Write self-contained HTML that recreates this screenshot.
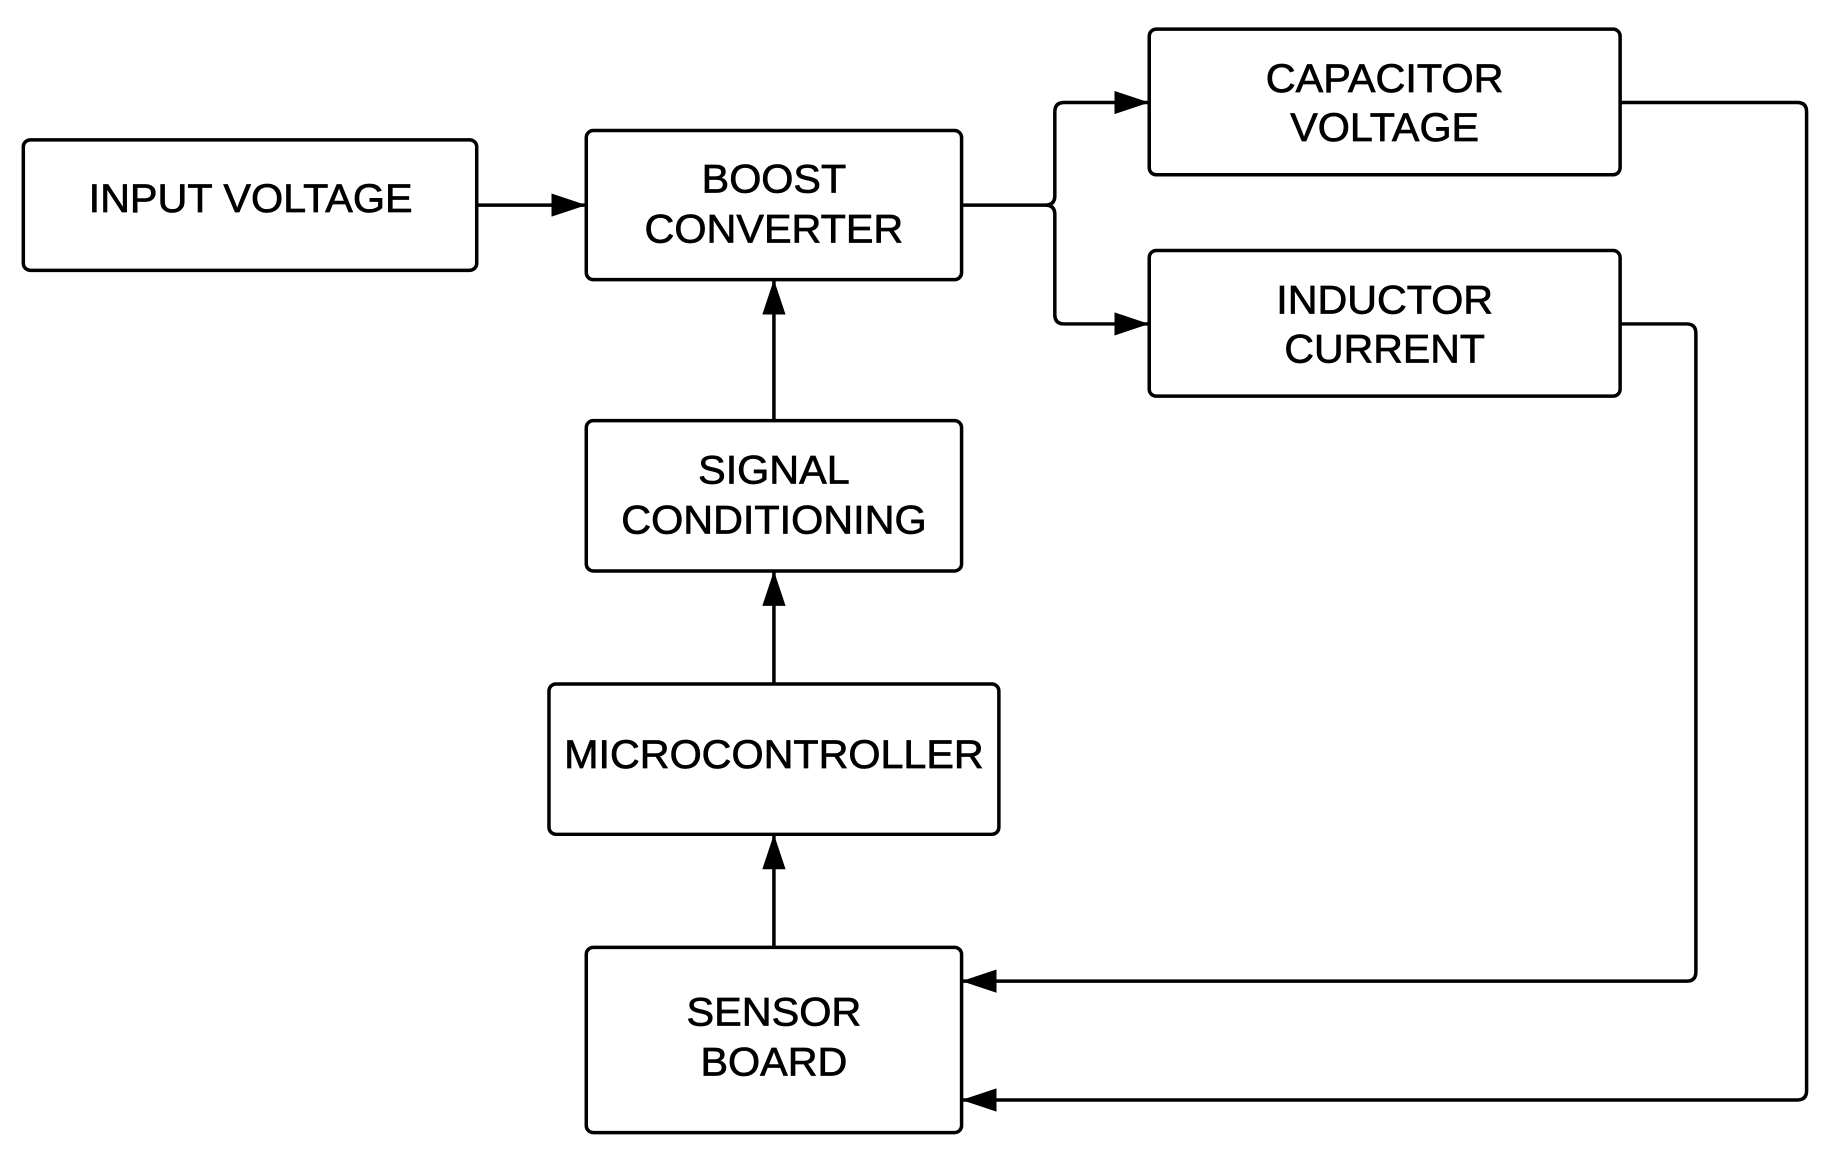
<!DOCTYPE html>
<html><head><meta charset="utf-8"><style>html,body{margin:0;padding:0;background:#fff}svg{display:block}</style></head><body>
<svg width="1827" height="1160" viewBox="0 0 1567.5 995.5" preserveAspectRatio="none" xmlns="http://www.w3.org/2000/svg">
<defs>
<marker id="b" viewBox="0 0 30 20" refX="30" refY="10" markerWidth="30" markerHeight="20" markerUnits="userSpaceOnUse" orient="auto"><path d="M0,0 L30,10 L0,20 z" fill="#000"/></marker></defs>
<g fill="none" stroke="#000" stroke-width="3">
<rect x="20" y="120" width="389" height="112" rx="6"/>
<rect x="503" y="112" width="322" height="128" rx="6"/>
<rect x="986" y="25" width="404" height="125" rx="6"/>
<rect x="986" y="215" width="404" height="125" rx="6"/>
<rect x="503" y="361" width="322" height="129" rx="6"/>
<rect x="471" y="587" width="386" height="129" rx="6"/>
<rect x="503" y="813" width="322" height="159" rx="6"/>
<path d="M409,176 H503" marker-end="url(#b)"/>
<path d="M825,176 H897 Q905,176 905,168 V96 Q905,88 913,88 H986" marker-end="url(#b)"/>
<path d="M897,176 Q905,176 905,184 V270 Q905,278 913,278 H986" marker-end="url(#b)"/>
<path d="M664,361 V240" marker-end="url(#b)"/>
<path d="M664,587 V490" marker-end="url(#b)"/>
<path d="M664,813 V716" marker-end="url(#b)"/>
<path d="M1390,88 H1542 Q1550,88 1550,96 V936 Q1550,944 1542,944 H825" marker-end="url(#b)"/>
<path d="M1390,278 H1447 Q1455,278 1455,286 V834 Q1455,842 1447,842 H825" marker-end="url(#b)"/>
</g>
<g font-family="Liberation Sans, sans-serif" font-size="34" text-anchor="middle" fill="#000" stroke="#000" stroke-width="0.6" lengthAdjust="spacingAndGlyphs">
<text x="215" y="182" textLength="278" lengthAdjust="spacingAndGlyphs">INPUT VOLTAGE</text>
<text x="664" y="165" textLength="124" lengthAdjust="spacingAndGlyphs">BOOST</text><text x="664" y="208" textLength="222" lengthAdjust="spacingAndGlyphs">CONVERTER</text>
<text x="1188" y="79" textLength="204" lengthAdjust="spacingAndGlyphs">CAPACITOR</text><text x="1188" y="121" textLength="162" lengthAdjust="spacingAndGlyphs">VOLTAGE</text>
<text x="1188" y="269" textLength="186" lengthAdjust="spacingAndGlyphs">INDUCTOR</text><text x="1188" y="311" textLength="172" lengthAdjust="spacingAndGlyphs">CURRENT</text>
<text x="664" y="415" textLength="130" lengthAdjust="spacingAndGlyphs">SIGNAL</text><text x="664" y="458" textLength="262" lengthAdjust="spacingAndGlyphs">CONDITIONING</text>
<text x="664" y="659" textLength="360" lengthAdjust="spacingAndGlyphs">MICROCONTROLLER</text>
<text x="664" y="880" textLength="150" lengthAdjust="spacingAndGlyphs">SENSOR</text><text x="664" y="923" textLength="126" lengthAdjust="spacingAndGlyphs">BOARD</text>
</g>
</svg>
</body></html>
